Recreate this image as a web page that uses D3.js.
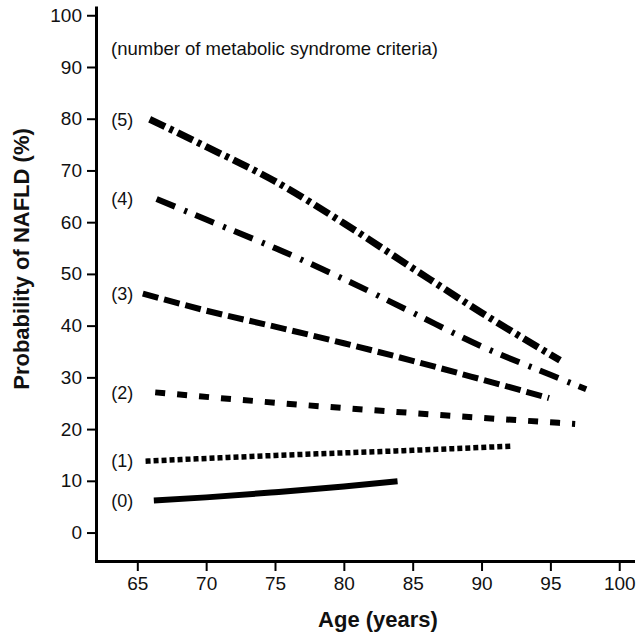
<!DOCTYPE html>
<html>
<head>
<meta charset="utf-8">
<script src="https://cdn.jsdelivr.net/npm/d3@7"></script>
<style>
  body { margin: 0; background: #fff; }
  text { font-family: "Liberation Sans", Arial, sans-serif; fill: #111; }
</style>
</head>
<body>
<div id="chart"></div>
<script>
// tick labels
var xTicks = [65, 70, 75, 80, 85, 90, 95, 100]
var yTicks = [0, 10, 20, 30, 40, 50, 60, 70, 80, 90, 100]

// number of metabolic syndrome criteria
var groupLabels = ["(0)", "(1)", "(2)", "(3)", "(4)", "(5)"]

// predicted probability curves
var age0 = [66.2, 70, 75, 80, 83.9]
var prob0 = [6.2, 6.8, 7.8, 8.9, 9.9]

var age1 = [65.6, 75, 85, 92.2]
var prob1 = [13.8, 14.9, 15.9, 16.7]

var age2 = [66.3, 75, 85, 96.8]
var prob2 = [27.1, 25.1, 23.1, 21.0]

var age3 = [65.4, 70, 75, 80, 85, 90, 94.9]
var prob3 = [46.2, 42.9, 39.8, 36.6, 33.2, 29.6, 26.0]

var age4 = [66.4, 70, 75, 80, 85, 90, 95, 97.6]
var prob4 = [64.5, 60.5, 55.0, 49.0, 42.5, 36.0, 30.5, 27.7]

var age5 = [65.9, 70, 75, 80, 85, 90, 95.7]
var prob5 = [79.9, 74.6, 67.9, 59.8, 51.1, 42.5, 33.3]

var svgWidth = 637
var svgHeight = 635

var svg = d3.select("#chart")
  .append("svg")
  .attr("width", svgWidth)
  .attr("height", svgHeight)

var xScale = d3.scaleLinear().domain([62, 101]).range([96, 633])
var yScale = d3.scaleLinear().domain([-5.5, 101.5]).range([561, 7.5])

// axes
var yAxis = d3.axisLeft(yScale).tickValues(yTicks).tickSize(9).tickSizeOuter(0).tickPadding(5)
var xAxis = d3.axisBottom(xScale).tickValues(xTicks).tickSize(10).tickSizeOuter(0).tickPadding(6)

var gy = svg.append("g")
  .attr("transform", "translate(96,0)")
  .call(yAxis)

var gx = svg.append("g")
  .attr("transform", "translate(0,561)")
  .call(xAxis)

;[gx, gy].forEach(g => {
  g.select(".domain").attr("stroke", "#000").attr("stroke-width", 3).attr("stroke-linecap", "square")
  g.selectAll(".tick line").attr("stroke", "#000").attr("stroke-width", 2)
  g.selectAll(".tick text")
    .attr("font-size", 19)
    .attr("font-family", "Liberation Sans, Arial, sans-serif")
    .attr("fill", "#111")
})

// axis titles
svg.append("text")
  .attr("x", 378)
  .attr("y", 627)
  .attr("text-anchor", "middle")
  .attr("font-size", 22)
  .attr("font-weight", "bold")
  .text("Age (years)")

svg.append("text")
  .attr("transform", "translate(28.5,259) rotate(-90)")
  .attr("text-anchor", "middle")
  .attr("font-size", 22)
  .attr("font-weight", "bold")
  .text("Probability of NAFLD (%)")

svg.append("text")
  .attr("x", 111)
  .attr("y", 55)
  .attr("font-size", 18.5)
  .text("(number of metabolic syndrome criteria)")

// curves
var ages = [age0, age1, age2, age3, age4, age5]
var probs = [prob0, prob1, prob2, prob3, prob4, prob5]
var dashes = [null, "5,3", "10,12", "16,6", "20,10,3,9", "17,5,4,5"]
var widths = [6, 5.5, 6, 6, 6, 7]

var line = d3.line()
  .x(d => xScale(d[0]))
  .y(d => yScale(d[1]))
  .curve(d3.curveMonotoneX)

ages.forEach((a, i) => {
  var pts = a.map((v, j) => [v, probs[i][j]])
  svg.append("path")
    .datum(pts)
    .attr("d", line)
    .attr("fill", "none")
    .attr("stroke", "#000")
    .attr("stroke-width", widths[i])
    .attr("stroke-dasharray", dashes[i])

  svg.append("text")
    .attr("x", xScale(65) - 4)
    .attr("y", yScale(probs[i][0]))
    .attr("dy", "0.35em")
    .attr("text-anchor", "end")
    .attr("font-size", 18)
    .text(groupLabels[i])
})
</script>
</body>
</html>
